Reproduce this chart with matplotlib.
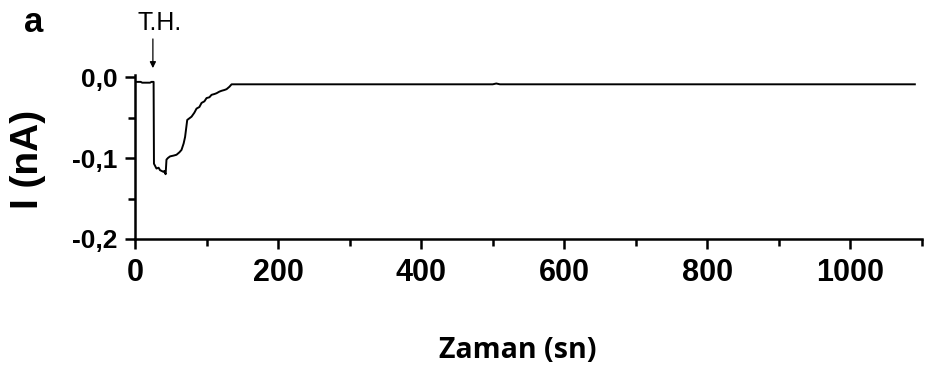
import numpy as np
import matplotlib.pyplot as plt

# current trace, time in s and current in nA
time_s = [0, 8, 10, 21, 23, 26, 26.5, 30, 33, 35, 39.6, 41, 42.8, 44, 46, 49,
          54, 58, 62, 65, 68, 70, 73, 76, 79, 83, 86, 90, 93, 97, 100, 104,
          107, 111, 114, 118, 121, 125, 128, 132, 135, 500, 505, 510, 1090]
current_na = [-0.006, -0.006, -0.007, -0.007, -0.006, -0.006, -0.107, -0.113,
              -0.112, -0.115, -0.117, -0.116, -0.120, -0.102, -0.100, -0.098,
              -0.097, -0.096, -0.093, -0.090, -0.082, -0.074, -0.053, -0.051,
              -0.049, -0.044, -0.039, -0.037, -0.032, -0.030, -0.026, -0.025,
              -0.022, -0.021, -0.020, -0.018, -0.017, -0.016, -0.015, -0.012,
              -0.009, -0.009, -0.008, -0.009, -0.009]

x_ticks = [0, 200, 400, 600, 800, 1000]
y_ticks = [0.0, -0.1, -0.2]
y_tick_labels = ["0,0", "-0,1", "-0,2"]
stim_time = 25

W, H = 925, 376
fig = plt.figure(figsize=(W / 100, H / 100), dpi=100)
ax = fig.add_axes([135 / W, 1 - 239 / H, 787 / W, 163.6 / H])

ax.plot(time_s, current_na, color="black", lw=1.4)

ax.set_xlim(0, 1100)
ax.set_ylim(-0.2, 0.002)
ax.spines[["top", "right"]].set_visible(False)
for side in ["left", "bottom"]:
    ax.spines[side].set_linewidth(1.8)

ax.set_xticks(x_ticks)
ax.set_xticks(np.arange(100, 1101, 200), minor=True)
ax.set_yticks(y_ticks)
ax.set_yticklabels(y_tick_labels)
ax.set_yticks([-0.05, -0.15], minor=True)
ax.tick_params(which="major", direction="out", length=7.5, width=1.8)
ax.tick_params(which="minor", direction="out", length=5, width=1.8)
ax.tick_params(axis="x", which="major", pad=6)
ax.tick_params(axis="y", which="major", pad=5)
for lab in ax.get_xticklabels():
    lab.set_fontfamily("Liberation Sans")
    lab.set_fontweight("bold")
    lab.set_fontsize(22)
for lab in ax.get_yticklabels():
    lab.set_fontfamily("Liberation Sans")
    lab.set_fontweight("bold")
    lab.set_fontsize(19)

# stimulus marker
ax.annotate("", xy=(stim_time, 0.011), xytext=(stim_time, 0.047),
            annotation_clip=False,
            arrowprops=dict(arrowstyle="-|>", color="black", lw=0.9,
                            mutation_scale=9, shrinkA=0, shrinkB=0))
fig.text(137 / W, 1 - 23.5 / H, "T.H.", ha="left", va="center",
         fontfamily="Liberation Sans", fontsize=18)

fig.text(34 / W, 1 - 22 / H, "a", ha="center", va="center",
         fontfamily="Liberation Sans", fontweight="bold", fontsize=25)

fig.text(28 / W, 1 - 159 / H, "I (nA)", ha="center", va="center",
         rotation=90, fontfamily="Liberation Sans", fontweight="bold",
         fontsize=28)
fig.text(518 / W, 1 - 350 / H, "Zaman (sn)", ha="center", va="center",
         fontfamily="Open Sans", fontweight="bold", fontsize=20.5)

fig.savefig("out.png", dpi=100)
